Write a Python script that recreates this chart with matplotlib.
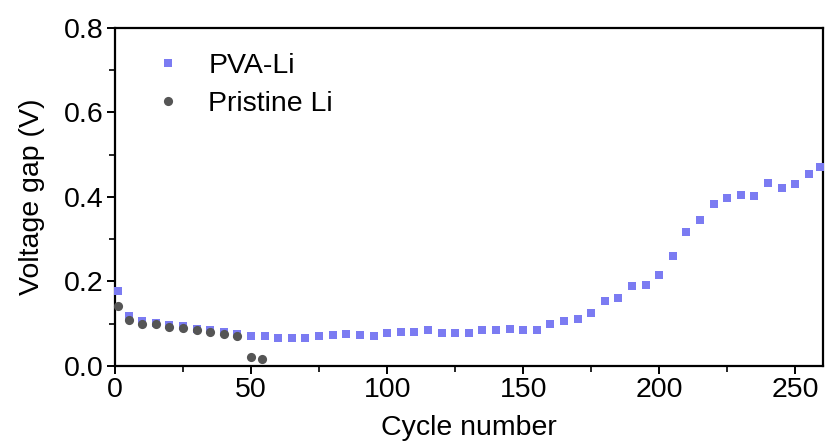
import matplotlib
matplotlib.use("Agg")
import matplotlib.pyplot as plt
from matplotlib.ticker import MultipleLocator, FormatStrFormatter

plt.rcParams['font.family'] = ['Liberation Sans', 'DejaVu Sans']

pva_cycles = [1, 5, 10, 15, 20, 25, 30, 35, 40, 45, 50, 55, 60, 65, 70, 75, 80, 85,
              90, 95, 100, 105, 110, 115, 120, 125, 130, 135, 140, 145, 150, 155,
              160, 165, 170, 175, 180, 185, 190, 195, 200, 205, 210, 215, 220, 225,
              230, 235, 240, 245, 250, 255, 259]
pva_gap = [0.177, 0.118, 0.107, 0.102, 0.096, 0.094, 0.088, 0.084, 0.080, 0.076,
           0.071, 0.070, 0.065, 0.065, 0.065, 0.071, 0.073, 0.075, 0.072, 0.070,
           0.078, 0.081, 0.081, 0.085, 0.078, 0.077, 0.077, 0.085, 0.085, 0.088,
           0.085, 0.085, 0.100, 0.106, 0.112, 0.124, 0.153, 0.161, 0.188, 0.192,
           0.215, 0.260, 0.318, 0.346, 0.384, 0.398, 0.404, 0.401, 0.433, 0.420,
           0.430, 0.455, 0.471]

pristine_cycles = [1, 5, 10, 15, 20, 25, 30, 35, 40, 45, 50, 54]
pristine_gap = [0.142, 0.108, 0.100, 0.098, 0.091, 0.089, 0.084, 0.080, 0.075,
                0.071, 0.022, 0.017]

FS = 20.5

fig = plt.figure(figsize=(8.25, 4.45), dpi=100)
ax = fig.add_axes([0.1394, 0.178, 0.8576, 0.759])

ax.plot(pva_cycles, pva_gap, linestyle='none', marker='s', markersize=6.4,
        color='#7b7bf2', markeredgewidth=0, label='PVA-Li', clip_on=False, zorder=3)
ax.plot(pristine_cycles, pristine_gap, linestyle='none', marker='o', markersize=6.6,
        color='#555555', markeredgewidth=0, label='Pristine Li', clip_on=False, zorder=4)

ax.set_xlim(0, 260)
ax.set_ylim(0, 0.8)
ax.xaxis.set_major_locator(MultipleLocator(50))
ax.xaxis.set_minor_locator(MultipleLocator(25))
ax.yaxis.set_major_locator(MultipleLocator(0.2))
ax.yaxis.set_minor_locator(MultipleLocator(0.1))
ax.yaxis.set_major_formatter(FormatStrFormatter('%.1f'))

for s in ax.spines.values():
    s.set_linewidth(1.6)
ax.tick_params(which='major', direction='out', length=6, width=1.4, labelsize=FS, pad=2)
ax.tick_params(which='minor', direction='out', length=4, width=1.2)

ax.set_xlabel('Cycle number', fontsize=FS, labelpad=9)
ax.set_ylabel('Voltage gap (V)', fontsize=FS, labelpad=14)

leg = ax.legend(loc='upper left', bbox_to_anchor=(0.019, 1.003), frameon=False,
                fontsize=FS, handletextpad=0.9, labelspacing=0.43,
                handlelength=1.0)

fig.savefig('out.png', dpi=100)
